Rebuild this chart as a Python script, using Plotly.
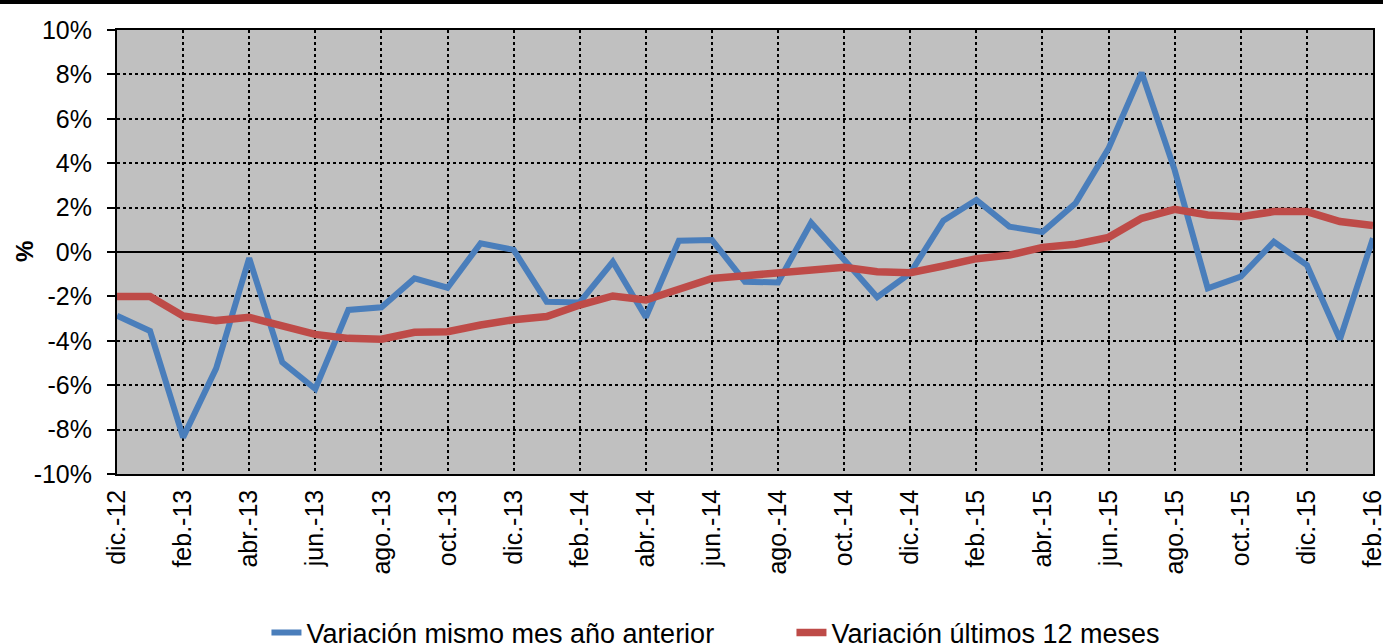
import plotly.graph_objects as go

# meses (dic-12 a feb-16)
meses = [
    "dic.-12", "ene.-13", "feb.-13", "mar.-13", "abr.-13", "may.-13", "jun.-13",
    "jul.-13", "ago.-13", "sep.-13", "oct.-13", "nov.-13", "dic.-13", "ene.-14",
    "feb.-14", "mar.-14", "abr.-14", "may.-14", "jun.-14", "jul.-14", "ago.-14",
    "sep.-14", "oct.-14", "nov.-14", "dic.-14", "ene.-15", "feb.-15", "mar.-15",
    "abr.-15", "may.-15", "jun.-15", "jul.-15", "ago.-15", "sep.-15", "oct.-15",
    "nov.-15", "dic.-15", "ene.-16", "feb.-16",
]

var_mes = [
    -2.87, -3.56, -8.35, -5.24, -0.28, -4.97, -6.17, -2.61, -2.49, -1.19,
    -1.61, 0.39, 0.10, -2.24, -2.27, -0.44, -2.94, 0.51, 0.54, -1.34,
    -1.37, 1.32, -0.35, -2.04, -0.95, 1.41, 2.35, 1.14, 0.90, 2.19,
    4.67, 8.08, 3.69, -1.64, -1.11, 0.46, -0.59, -3.93, 0.62,
]

var_12m = [
    -2.01, -2.01, -2.88, -3.09, -2.94, -3.29, -3.71, -3.89, -3.93, -3.62,
    -3.59, -3.29, -3.05, -2.91, -2.39, -1.98, -2.16, -1.68, -1.19, -1.07,
    -0.96, -0.78, -0.69, -0.89, -0.93, -0.63, -0.30, -0.14, 0.21, 0.35,
    0.66, 1.52, 1.92, 1.67, 1.59, 1.82, 1.82, 1.37, 1.19,
]

nombres = ["Variación mismo mes año anterior", "Variación últimos 12 meses"]

y_ticks = [-10, -8, -6, -4, -2, 0, 2, 4, 6, 8, 10]
y_labels = ["-10%", "-8%", "-6%", "-4%", "-2%", "0%", "2%", "4%", "6%", "8%", "10%"]

FONT = "Liberation Sans, Arial, sans-serif"

fig = go.Figure()
fig.add_trace(go.Scatter(x=meses, y=var_mes, mode="lines", name=nombres[0],
                         line=dict(color="#4A7EBB", width=6)))
fig.add_trace(go.Scatter(x=meses, y=var_12m, mode="lines", name=nombres[1],
                         line=dict(color="#BE4B48", width=7.5)))

fig.update_layout(
    width=1383, height=644,
    margin=dict(l=117, r=10, t=30, b=170, autoexpand=False),
    paper_bgcolor="white",
    plot_bgcolor="#C0C0C0",
    font=dict(family=FONT, size=26, color="black"),
    showlegend=True,
    legend=dict(orientation="h", x=0.119, xanchor="left", y=-0.358, yanchor="middle",
                font=dict(size=27), entrywidth=480, bgcolor="rgba(0,0,0,0)"),
    shapes=[dict(type="line", xref="paper", yref="paper",
                 x0=-117 / 1256, x1=1 + 10 / 1256,
                 y0=1 + 28 / 444.5, y1=1 + 28 / 444.5,
                 line=dict(color="black", width=4))],
    annotations=[dict(text="<b>%</b>", textangle=-90, showarrow=False,
                      xref="paper", yref="paper", x=-93 / 1256, y=0.5,
                      xanchor="center", yanchor="middle", font=dict(size=24))],
)

fig.update_xaxes(
    type="category", range=[0, len(meses) - 1],
    tickvals=meses[::2], tickangle=-90,
    ticks="", ticklabelstandoff=4,
    tickfont=dict(size=25),
    showgrid=True, gridcolor="black", gridwidth=2, griddash="dot",
    showline=True, linecolor="black", linewidth=1.5, mirror=True,
    automargin=False,
)
fig.update_yaxes(
    range=[-10, 10], tickvals=y_ticks, ticktext=y_labels,
    ticks="outside", ticklen=8, tickcolor="black", tickwidth=1.5,
    ticklabelstandoff=10, tickfont=dict(size=25),
    showgrid=True, gridcolor="black", gridwidth=2, griddash="dot",
    zeroline=True, zerolinecolor="black", zerolinewidth=2,
    showline=True, linecolor="black", linewidth=2, mirror=True,
    automargin=False,
)

# quitar el margen del body para que la figura empiece en (0, 0)
fig.write_html("out.html", config={"displayModeBar": False},
               post_script="document.body.style.margin = '0px';")
